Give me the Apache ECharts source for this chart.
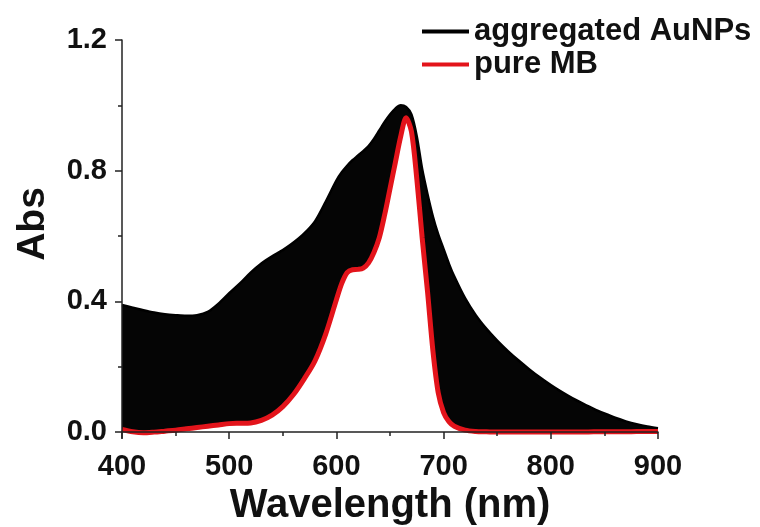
<!DOCTYPE html>
<html>
<head>
<meta charset="utf-8">
<script src="https://cdn.jsdelivr.net/npm/echarts@6/dist/echarts.min.js"></script>
<style>
  html, body { margin: 0; padding: 0; background: #fff; }
  #chart { width: 760px; height: 527px; }
</style>
</head>
<body>
<div id="chart"></div>
<script>
// Wavelength grid (nm)
const wavelengths = [400,410,420,430,440,450,460,470,480,490,500,510,520,530,540,550,560,570,580,590,
  600,605,610,615,620,625,630,635,640,645,650,655,660,665,670,675,680,685,690,695,700,705,710,
  720,730,740,750,760,770,780,790,800,810,820,830,840,850,860,870,880,890,900];

// Absorbance of aggregated AuNPs
const aggregatedAbs = [0.389,0.381,0.373,0.366,0.361,0.358,0.356,0.358,0.368,0.393,0.425,0.455,0.488,0.516,0.538,0.557,0.580,0.608,0.645,0.705,
  0.770,0.795,0.815,0.832,0.846,0.860,0.875,0.897,0.923,0.949,0.972,0.990,1.000,0.995,0.972,0.905,0.805,0.728,0.660,0.605,0.560,0.515,0.476,
  0.410,0.358,0.316,0.280,0.248,0.219,0.192,0.167,0.144,0.123,0.104,0.087,0.071,0.057,0.044,0.033,0.024,0.017,0.012];

// Absorbance of pure MB
const pureMBAbs = [0.008,0.001,-0.002,0.000,0.003,0.006,0.010,0.014,0.018,0.022,0.026,0.027,0.028,0.036,0.052,0.078,0.115,0.163,0.218,0.300,
  0.405,0.455,0.488,0.497,0.498,0.502,0.518,0.550,0.595,0.665,0.745,0.825,0.905,0.962,0.920,0.775,0.595,0.430,0.250,0.120,0.060,0.032,0.018,
  0.006,0.002,0.001,0.000,0.000,0.000,0.000,0.000,0.000,0.000,0.000,0.000,0.001,0.001,0.001,0.001,0.002,0.002,0.002];

// Axis tick positions
const yMajorTicks = [0, 0.4, 0.8, 1.2];
const yMinorTicks = [0.2, 0.6, 1.0];

const seriesNames = ['aggregated AuNPs', 'pure MB'];
const RED = '#e3141b';
const FONT = '"Liberation Sans", Arial, sans-serif';

const pairs = (ys) => wavelengths.map((x, i) => [x, ys[i]]);

const chart = echarts.init(document.getElementById('chart'), null, { renderer: 'canvas' });

const axisLineStyle = { color: '#222', width: 1.5 };

chart.setOption({
  animation: false,
  backgroundColor: '#fff',
  grid: { left: 122, right: 102, top: 40, bottom: 89, outerBoundsMode: 'none', containLabel: false },
  legend: {
    data: [
      { name: seriesNames[0], icon: 'rect', itemStyle: { color: '#000' } },
      { name: seriesNames[1], icon: 'rect', itemStyle: { color: RED } }
    ],
    orient: 'vertical',
    left: 417,
    top: 11,
    itemWidth: 47,
    itemHeight: 4,
    itemGap: 2,
    textStyle: { fontFamily: FONT, fontWeight: 'bold', fontSize: 31, color: '#111', lineHeight: 31 }
  },
  xAxis: {
    type: 'value',
    min: 400,
    max: 900,
    interval: 100,
    z: 10,
    name: 'Wavelength (nm)',
    nameLocation: 'middle',
    nameGap: 42,
    nameTextStyle: { fontFamily: FONT, fontWeight: 'bold', fontSize: 40, color: '#111' },
    axisLine: { lineStyle: axisLineStyle },
    axisTick: { inside: false, length: 7, lineStyle: axisLineStyle },
    minorTick: { show: true, splitNumber: 2, length: 4, lineStyle: axisLineStyle },
    axisLabel: { fontFamily: FONT, fontWeight: 'bold', fontSize: 29, color: '#111', margin: 14 },
    splitLine: { show: false }
  },
  yAxis: [{
    type: 'value',
    min: -0.018,
    max: 1.2,
    z: 10,
    name: 'Abs',
    nameLocation: 'middle',
    nameGap: 69,
    nameTextStyle: { fontFamily: FONT, fontWeight: 'bold', fontSize: 39, color: '#111', padding: [0, 0, 0, 30] },
    axisLine: { show: true, lineStyle: axisLineStyle },
    axisTick: { show: true, length: 7, customValues: yMajorTicks, lineStyle: axisLineStyle },
    axisLabel: {
      customValues: yMajorTicks,
      fontFamily: FONT, fontWeight: 'bold', fontSize: 29, color: '#111', margin: 15,
      formatter: (v) => v.toFixed(1)
    },
    splitLine: { show: false }
  }, {
    type: 'value',
    min: -0.018,
    max: 1.2,
    position: 'left',
    z: 10,
    axisLine: { show: false },
    axisTick: { show: true, length: 4, customValues: yMinorTicks, lineStyle: axisLineStyle },
    axisLabel: { show: false },
    splitLine: { show: false }
  }],
  series: [
    {
      name: seriesNames[0],
      type: 'line',
      data: pairs(aggregatedAbs),
      symbol: 'none',
      smooth: 0.3,
      lineStyle: { color: '#000', width: 2.5 },
      itemStyle: { color: '#000' },
      areaStyle: { color: '#050505', opacity: 1, origin: 'start' },
      z: 2
    },
    {
      // white area under the MB curve leaves only the band between the two spectra filled
      name: seriesNames[1],
      type: 'line',
      data: pairs(pureMBAbs),
      symbol: 'none',
      smooth: 0.3,
      lineStyle: { color: RED, width: 5 },
      itemStyle: { color: RED },
      areaStyle: { color: '#ffffff', opacity: 1, origin: 'start' },
      z: 3
    }
  ]
});
</script>
</body>
</html>
